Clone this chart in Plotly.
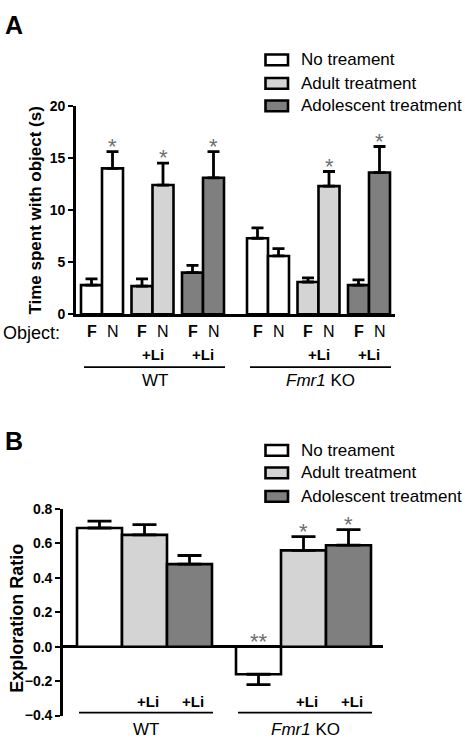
import plotly.graph_objects as go

W, H = 465, 749

# ---------------- data ----------------
groups = ["WT", "<i>Fmr1</i> KO"]
treatments = ["No treament", "Adult treatment", "Adolescent treatment"]
objects = ["F", "N"]
li_labels = ["", "+Li", "+Li"]

# Panel A: time with object (s); order per treatment: WT-F, WT-N, KO-F, KO-N
a_no_mean = [2.8, 14.0, 7.3, 5.6]
a_no_sem = [0.6, 1.6, 1.0, 0.7]
a_adult_mean = [2.7, 12.4, 3.1, 12.3]
a_adult_sem = [0.7, 2.1, 0.4, 1.4]
a_adol_mean = [4.0, 13.1, 2.8, 13.6]
a_adol_sem = [0.7, 2.5, 0.5, 2.5]
a_no_sig = ["", "*", "", ""]
a_adult_sig = ["", "*", "", "*"]
a_adol_sig = ["", "*", "", "*"]
a_ticks = [0, 5, 10, 15, 20]

# Panel B: exploration ratio; order per treatment: WT, KO
b_no_mean = [0.69, -0.16]
b_no_sem = [0.04, 0.06]
b_adult_mean = [0.65, 0.56]
b_adult_sem = [0.06, 0.08]
b_adol_mean = [0.48, 0.59]
b_adol_sem = [0.05, 0.09]
b_no_sig = ["", "**"]
b_adult_sig = ["", "*"]
b_adol_sig = ["", "*"]
b_ticks = [-0.4, -0.2, 0.0, 0.2, 0.4, 0.6, 0.8]

colors = ["#ffffff", "#d4d4d4", "#7f7f7f"]
FONT = "Liberation Sans, Arial, sans-serif"


def py(p):
    return 1 - p / H


def px(p):
    return p / W


a_means = [a_no_mean, a_adult_mean, a_adol_mean]
a_sems = [a_no_sem, a_adult_sem, a_adol_sem]
a_sigs = [a_no_sig, a_adult_sig, a_adol_sig]
b_means = [b_no_mean, b_adult_mean, b_adol_mean]
b_sems = [b_no_sem, b_adult_sem, b_adol_sem]
b_sigs = [b_no_sig, b_adult_sig, b_adol_sig]

# layout geometry (axis units)
A_W, A_OFF, A_PAIR, A_GRP = 21, 5, 50.5, 166
B_W, B_OFF, B_STEP, B_GRP = 45, 14, 45, 159


def a_center(g, t, o):
    return A_OFF + g * A_GRP + t * A_PAIR + o * A_W + A_W / 2


def b_center(g, t):
    return B_OFF + g * B_GRP + t * B_STEP + B_W / 2


def txt(x, y, text, size, xref="paper", yref="paper", xanchor="center", yanchor="middle",
        color="black", **kw):
    return dict(x=x, y=y, xref=xref, yref=yref, text=text, showarrow=False,
                xanchor=xanchor, yanchor=yanchor,
                font=dict(size=size, family=FONT, color=color), **kw)


fig = go.Figure()
annotations = []
shapes = []
STAR = "#6e6e6e"

# ---------------- Panel A bars ----------------
for t, name in enumerate(treatments):
    xs, ys, es = [], [], []
    i = 0
    for g in range(len(groups)):
        for o in range(len(objects)):
            xs.append(a_center(g, t, o))
            ys.append(a_means[t][i])
            es.append(a_sems[t][i])
            if a_sigs[t][i]:
                annotations.append(txt(a_center(g, t, o), a_means[t][i] + a_sems[t][i], a_sigs[t][i],
                                       22, xref="x", yref="y", yanchor="bottom", color=STAR, yshift=-9))
            i += 1
    fig.add_trace(go.Bar(
        x=xs, y=ys, width=A_W, name=name, showlegend=False,
        marker=dict(color=colors[t], line=dict(color="black", width=2.6)),
        error_y=dict(type="data", symmetric=False, array=es, arrayminus=[0] * len(es),
                     color="black", thickness=2.8, width=6),
        xaxis="x", yaxis="y"))

# ---------------- Panel B bars ----------------
for t, name in enumerate(treatments):
    xs, ys, up, dn = [], [], [], []
    for g in range(len(groups)):
        m, s = b_means[t][g], b_sems[t][g]
        xs.append(b_center(g, t))
        ys.append(m)
        up.append(s if m >= 0 else 0)
        dn.append(s if m < 0 else 0)
        if b_sigs[t][g]:
            annotations.append(txt(b_center(g, t), (m + s) if m >= 0 else 0, b_sigs[t][g],
                                   22, xref="x2", yref="y2", yanchor="bottom", color=STAR, yshift=-9))
    fig.add_trace(go.Bar(
        x=xs, y=ys, width=B_W, name=name, showlegend=False,
        marker=dict(color=colors[t], line=dict(color="black", width=2.6)),
        error_y=dict(type="data", symmetric=False, array=up, arrayminus=dn,
                     color="black", thickness=2.8, width=12),
        xaxis="x2", yaxis="y2"))

# ---------------- Panel A labels ----------------
for g in range(len(groups)):
    for t in range(len(treatments)):
        for o, ob in enumerate(objects):
            annotations.append(txt(a_center(g, t, o), py(331),
                                   ("<b>%s</b>" % ob) if ob == "F" else ob, 16, xref="x"))
        if li_labels[t]:
            annotations.append(txt((a_center(g, t, 0) + a_center(g, t, 1)) / 2, py(354),
                                   "<b>%s</b>" % li_labels[t], 15, xref="x"))
    x0 = A_OFF + g * A_GRP + 3
    x1 = A_OFF + g * A_GRP + 2 * A_PAIR + 2 * A_W + 1
    shapes.append(dict(type="line", xref="x", yref="paper", x0=x0, x1=x1, y0=py(367), y1=py(367),
                       line=dict(color="black", width=1.8)))
    annotations.append(txt((x0 + x1) / 2, py(381), groups[g], 17, xref="x"))

annotations.append(txt(px(1), py(332), "Object:", 18, xanchor="left"))

# ---------------- Panel B labels ----------------
for g in range(len(groups)):
    for t in range(len(treatments)):
        if li_labels[t]:
            annotations.append(txt(b_center(g, t) + 3, py(709), "<b>%s</b>" % li_labels[t], 15,
                                   xref="x2"))
    x0 = B_OFF + g * B_GRP + 2
    x1 = B_OFF + g * B_GRP + 3 * B_STEP + 1
    shapes.append(dict(type="line", xref="x2", yref="paper", x0=x0, x1=x1, y0=py(720), y1=py(720),
                       line=dict(color="black", width=1.8)))
    annotations.append(txt((x0 + x1) / 2, py(737), groups[g], 17, xref="x2"))

# ---------------- legends (drawn) ----------------
for rows in ([53, 77, 100], [452, 475, 499]):
    for t, name in enumerate(treatments):
        yc = rows[t]
        shapes.append(dict(type="rect", xref="paper", yref="paper", x0=px(265.5), x1=px(288),
                           y0=py(yc + 5.5), y1=py(yc - 5.5), fillcolor=colors[t],
                           line=dict(color="black", width=2.6)))
        annotations.append(txt(px(299), py(yc), name, 17, xanchor="left"))

# panel letters and axis titles
annotations.append(txt(px(3), py(17), "<b>A</b>", 25, xanchor="left"))
annotations.append(txt(px(3), py(442), "<b>B</b>", 25, xanchor="left"))
annotations.append(txt(px(36), py(207), "<b>Time spent with object (s)</b>", 17, textangle=-90))
annotations.append(txt(px(17), py(624), "<b>Exploration Ratio</b>", 18, textangle=-90))

fig.update_layout(
    width=W, height=H, autosize=False,
    margin=dict(l=0, r=0, t=0, b=0),
    paper_bgcolor="white", plot_bgcolor="white",
    barmode="overlay", showlegend=False,
    font=dict(family=FONT, color="black"),
    xaxis=dict(domain=[px(76), px(395)], range=[0, 319], showline=True, linewidth=2.6,
               linecolor="black", showticklabels=False, ticks="", zeroline=False, showgrid=False),
    yaxis=dict(domain=[py(313), py(100)], range=[0, 20], tickvals=a_ticks, showline=True,
               linewidth=2.6, linecolor="black", ticks="outside", ticklen=5, tickwidth=2,
               tickcolor="black", zeroline=False, showgrid=False,
               tickfont=dict(size=14, family=FONT, color="black", weight="bold")),
    xaxis2=dict(domain=[px(63), px(383)], range=[0, 320], showline=False, showticklabels=False,
                ticks="", zeroline=False, showgrid=False, anchor="y2"),
    yaxis2=dict(domain=[py(723), py(512)], range=[-0.4, 0.8], tickvals=b_ticks, tickformat=".1f",
                showline=True, linewidth=2.6, linecolor="black", ticks="outside", ticklen=5,
                tickwidth=2, tickcolor="black", zeroline=True, zerolinecolor="black",
                zerolinewidth=2.6, showgrid=False, anchor="x2",
                tickfont=dict(size=14, family=FONT, color="black", weight="bold")),
    annotations=annotations, shapes=shapes,
)

fig.write_html("out.html", config={"displayModeBar": False},
               post_script="document.documentElement.style.margin='0';document.body.style.margin='0';")
